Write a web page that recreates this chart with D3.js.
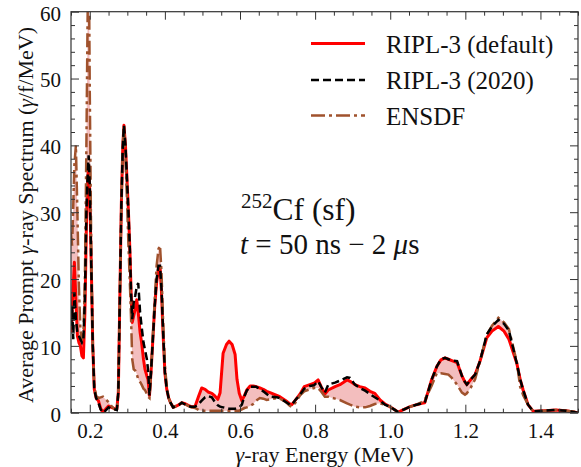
<!DOCTYPE html>
<html><head><meta charset="utf-8">
<script src="https://cdn.jsdelivr.net/npm/d3@7"></script>
<style>body{margin:0;background:#fff}svg{display:block}text{font-family:"Liberation Serif","Times New Roman",serif;fill:#111}</style>
</head><body><svg id="c" width="581" height="467"></svg>
<script>
// gamma-ray energy grid (MeV)
const energy = [0.150,0.153,0.156,0.159,0.163,0.167,0.171,0.175,0.179,0.183,0.187,0.191,0.194,0.197,0.200,0.204,0.208,0.212,0.217,0.223,0.229,0.235,0.242,0.250,0.258,0.266,0.272,0.276,0.280,0.284,0.288,0.291,0.295,0.299,0.303,0.307,0.310,0.313,0.317,0.321,0.325,0.329,0.334,0.338,0.343,0.347,0.352,0.355,0.359,0.363,0.368,0.373,0.378,0.383,0.387,0.391,0.395,0.400,0.405,0.410,0.415,0.422,0.430,0.438,0.445,0.452,0.462,0.470,
0.480,0.490,0.498,0.507,0.515,0.525,0.533,0.541,0.547,0.555,0.564,0.571,0.579,0.587,0.592,0.598,0.605,0.612,0.618,0.627,0.635,0.643,0.653,0.662,0.671,0.680,0.698,0.706,0.722,0.733,0.738,0.749,0.760,0.771,0.786,0.797,0.808,0.817,0.826,0.835,0.853,0.866,0.885,0.893,0.906,0.919,0.933,0.946,0.959,0.973,0.986,0.999,1.010,1.021,1.037,1.053,1.070,1.084,1.092,1.100,1.110,1.124,1.135,1.146,1.155,1.164,1.178,1.191,1.199,1.204,1.215,1.226,1.239,1.257,1.271,1.288,1.303,1.316,1.337,1.346,1.354,1.367,1.381,1.412,1.441,1.468,1.500];
// RIPL-3 (default)
const riplDefault = [12,15,19,22.5,17,11.5,10.5,10,8.5,8.2,15,28,34,37,33,22,10,3.5,2.2,1.8,0.6,0.1,0.5,1.0,0.8,0.6,0.5,3,17,31,40,43,40,35,30,24,18,13.5,14.5,15.5,16.9,15,12,10.5,8,6.5,5.5,5.0,2.6,6,11,16,19.5,21.5,21.8,18,12,6,3.5,2.2,1.5,0.8,1.0,1.2,1.5,1.4,1.1,0.9,
0.9,2.5,3.7,3.5,3.1,2.9,2.5,2.0,3.0,8.9,10.2,10.7,10.2,8.7,5.0,2.9,1.8,2.6,3.4,4.0,4.0,3.9,3.7,3.5,3.2,3.0,2.6,2.4,1.8,1.3,1.2,2.0,2.8,3.9,4.2,4.4,4.9,3.8,2.8,3.4,3.9,4.2,4.9,4.7,4.2,3.9,3.7,3.2,2.9,1.9,1.3,0.9,0.5,0.1,0.5,0.9,1.2,1.4,1.5,3.0,4.9,6.9,7.9,8.2,8.0,7.8,7.5,5.5,4.6,4.2,5.0,5.7,7.7,11.2,12.2,12.9,12.2,11.0,7.4,5.0,3.4,1.2,0.2,0.3,0.4,0.3,0.0];
// RIPL-3 (2020)
const ripl2020 = [13,16,11,18,14,12,11.5,11,10.5,11,17,30,35,38.5,34,22,10,3.5,2.2,1.5,0.5,0,0.3,0.8,0.6,0.5,0.4,3,17,31,40,43,40,35,30,24,18,14,16.5,17.5,18.8,19.4,15,12.9,10.5,9.4,8,6.5,2.6,6,11,16,20,22,22,18.5,12.5,6,3.5,2.2,1.5,0.8,1.0,1.2,1.5,1.3,1.0,0.9,
0.9,1.3,1.8,2.3,2.5,2.3,1.6,1.1,0.9,0.8,0.7,0.6,0.6,0.6,0.7,0.8,1.2,2.5,3.3,3.9,3.9,3.9,3.5,3.2,2.8,2.4,2.3,2.2,1.6,1.2,1.2,2.0,2.7,3.6,4.0,4.1,4.7,3.8,3.0,4.2,4.5,4.8,5.3,5.2,4.2,3.7,3.3,2.8,2.3,1.8,1.2,0.9,0.5,0.1,0.5,0.9,1.2,1.4,1.5,3.0,4.9,6.9,8.0,8.2,8.0,7.8,7.7,5.5,4.6,4.2,5.0,5.7,7.7,11.7,12.9,13.9,13.3,12.3,7.4,5.0,3.4,1.2,0.2,0.3,0.4,0.3,0.0];
// ENSDF
const ensdf = [27,25,31,37,40,30,19,12.5,11,11.5,20,40,58,72,48,24,10,4,2.5,2.2,2.3,2.4,2.0,1.6,1.0,0.5,0.5,3,17,31,40,43,38,32,25,19,14,8,6.5,6.3,5.8,5.0,4.6,4.2,3.6,3.4,2.8,2.4,2.2,6,11.5,17,22,24.5,25,21,14,7,4,2.2,1.5,0.8,1.0,1.2,1.5,1.4,1.0,0.8,
0.7,0.4,0.3,0.3,0.3,0.3,0.3,0.3,0.3,0.3,0.3,0.3,0.3,0.3,0.3,0.3,0.5,0.7,0.8,1.0,1.3,1.8,2.2,2.1,1.9,2.0,2.2,2.1,1.6,1.0,0.9,1.6,2.6,3.2,3.5,3.7,3.7,3.1,2.4,2.4,2.1,1.9,1.4,1.2,0.9,0.8,0.8,1.0,1.3,1.4,1.2,0.9,0.5,0.1,0.5,0.9,1.2,1.6,2.0,2.8,4.0,5.9,5.9,5.8,5.7,5.2,4.2,3.0,2.7,2.9,3.8,5.0,7.7,11.7,13.0,14.2,13.5,12.5,7.6,3.9,2.6,1.2,0.2,0.3,0.4,0.3,0.1];

const xTicks = [0.2,0.4,0.6,0.8,1.0,1.2,1.4];
const xMinor = [0.15,0.25,0.3,0.35,0.45,0.5,0.55,0.65,0.7,0.75,0.85,0.9,0.95,1.05,1.1,1.15,1.25,1.3,1.35,1.45,1.5];
const yTicks = [0,10,20,30,40,50,60];
const yMinor = [2,4,6,8,12,14,16,18,22,24,26,28,32,34,36,38,42,44,46,48,52,54,56,58];
const seriesNames = ["RIPL-3 (default)","RIPL-3 (2020)","ENSDF"];

const L=71, R=578, T=11.7, B=412.7;
const svg = d3.select("#c");
const x = d3.scaleLinear().domain([0.15,1.5]).range([L,R]);
const y = d3.scaleLinear().domain([0,60]).range([B,T]);

svg.append("clipPath").attr("id","clip").append("rect").attr("x",L).attr("y",T).attr("width",R-L).attr("height",B-T);
const g = svg.append("g").attr("clip-path","url(#clip)");

const idx = d3.range(energy.length);
g.append("path").datum(idx)
  .attr("d", d3.area().x(i=>x(energy[i])).y0(i=>y(ensdf[i])).y1(i=>y(riplDefault[i])))
  .attr("fill","rgb(215,40,40)").attr("fill-opacity",0.3);

const line = arr => d3.line().x(i=>x(energy[i])).y(i=>y(arr[i]))(idx);
g.append("path").attr("d", line(riplDefault)).attr("fill","none").attr("stroke","#ff0000").attr("stroke-width",3).attr("stroke-linejoin","round");
g.append("path").attr("d", line(ensdf)).attr("fill","none").attr("stroke","#a0522d").attr("stroke-width",2.5).attr("stroke-dasharray","14,4,3,4");
g.append("path").attr("d", line(ripl2020)).attr("fill","none").attr("stroke","#000").attr("stroke-width",2.5).attr("stroke-dasharray","8,4");

// axes
function styleAxis(sel){ sel.select(".domain").remove(); sel.selectAll("line").attr("stroke","#333"); sel.selectAll("text").attr("font-size",21).attr("fill","#111").style("font-family","Liberation Serif"); }
svg.append("g").attr("transform",`translate(0,${B})`).call(d3.axisBottom(x).tickValues(xTicks).tickSize(-8).tickPadding(10).tickFormat(d3.format(".1f"))).call(styleAxis);
svg.append("g").attr("transform",`translate(0,${B})`).call(d3.axisBottom(x).tickValues(xMinor).tickSize(-4).tickFormat("")).call(styleAxis);
svg.append("g").attr("transform",`translate(0,${T})`).call(d3.axisTop(x).tickValues(xTicks).tickSize(-8).tickFormat("")).call(styleAxis);
svg.append("g").attr("transform",`translate(0,${T})`).call(d3.axisTop(x).tickValues(xMinor).tickSize(-4).tickFormat("")).call(styleAxis);
svg.append("g").attr("transform",`translate(${L},0)`).call(d3.axisLeft(y).tickValues(yTicks).tickSize(-8).tickPadding(10)).call(styleAxis).selectAll("text").attr("dy","0.4em");
svg.append("g").attr("transform",`translate(${L},0)`).call(d3.axisLeft(y).tickValues(yMinor).tickSize(-4).tickFormat("")).call(styleAxis);
svg.append("g").attr("transform",`translate(${R},0)`).call(d3.axisRight(y).tickValues(yTicks).tickSize(-8).tickFormat("")).call(styleAxis);
svg.append("g").attr("transform",`translate(${R},0)`).call(d3.axisRight(y).tickValues(yMinor).tickSize(-4).tickFormat("")).call(styleAxis);
svg.append("rect").attr("x",L).attr("y",T).attr("width",R-L).attr("height",B-T).attr("fill","none").attr("stroke","#333").attr("stroke-width",1.2);

// axis titles
svg.append("text").attr("x",(L+R)/2).attr("y",462).attr("text-anchor","middle").attr("font-size",22)
  .html('<tspan font-style="italic">γ</tspan>-ray Energy (MeV)');
svg.append("text").attr("transform","translate(33,215) rotate(-90)").attr("text-anchor","middle").attr("font-size",22)
  .html('Average Prompt <tspan font-style="italic">γ</tspan>-ray Spectrum (<tspan font-style="italic">γ</tspan>/f/MeV)');

// legend
const leg = [{c:"#ff0000",w:3,d:null,y:43.5},{c:"#000",w:2.5,d:"8,4",y:80},{c:"#a0522d",w:2.5,d:"14,4,3,4",y:115.5}];
leg.forEach((l,i)=>{
  svg.append("line").attr("x1",311).attr("x2",365).attr("y1",l.y).attr("y2",l.y).attr("stroke",l.c).attr("stroke-width",l.w).attr("stroke-dasharray",l.d);
  svg.append("text").attr("x",386).attr("y",l.y+9).attr("font-size",25).text(seriesNames[i]);
});

// annotation
svg.append("text").attr("x",241).attr("y",220).attr("font-size",31.5)
  .html('<tspan font-size="21" dy="-12">252</tspan><tspan dy="12">Cf (sf)</tspan>');
svg.append("text").attr("x",240).attr("y",254).attr("font-size",29)
  .html('<tspan font-style="italic">t</tspan> = 50 ns − 2 <tspan font-style="italic">μ</tspan>s');
</script></body></html>
